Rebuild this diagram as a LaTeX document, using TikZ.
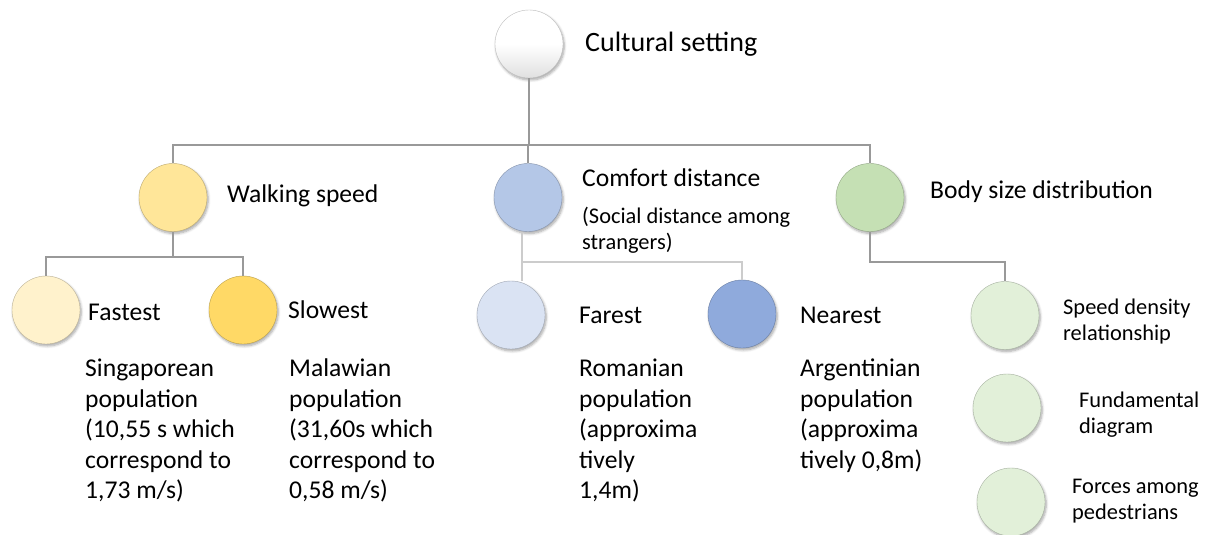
\documentclass[tikz,border=0pt]{standalone}
\usepackage{fontspec}
\setmainfont{Carlito}
\usetikzlibrary{shadows.blur}
\definecolor{wsp}{HTML}{FFE699}
\definecolor{fst}{HTML}{FFF2CC}
\definecolor{slw}{HTML}{FFD966}
\definecolor{cmf}{HTML}{B4C7E7}
\definecolor{far}{HTML}{DAE3F3}
\definecolor{nea}{HTML}{8FAADC}
\definecolor{bod}{HTML}{C5E0B4}
\definecolor{sub}{HTML}{E2F0D9}
\tikzset{
  softshadow/.style={blur shadow={shadow xshift=1.2pt, shadow yshift=-2pt, shadow blur steps=6, shadow blur radius=2.5pt, shadow opacity=35}},
  ball/.style={circle, minimum size=68pt, inner sep=0pt, fill=#1, draw=#1!75!black, line width=0.4pt, softshadow},
  link/.style={draw=black!40, line width=1.1pt},
  softlink/.style={draw=black!20, line width=1.1pt},
  head/.style={anchor=west, inner sep=0pt, font=\fontsize{25.6}{30}\selectfont},
  body/.style={anchor=north west, inner sep=0pt, align=left, font=\fontsize{25.6}{30.5}\selectfont},
  note/.style={anchor=north west, inner sep=0pt, align=left, font=\fontsize{22.4}{25.5}\selectfont},
}
\begin{document}
\begin{tikzpicture}[x=1pt, y=-1pt]
\useasboundingbox (0,0) rectangle (1208,535);

% root
\node[circle, minimum size=68pt, inner sep=0pt, top color=white, bottom color=black!12, middle color=white,
  draw=black!25, line width=0.4pt, softshadow] (root) at (529,44) {};
\node[head, font=\fontsize{28}{32}\selectfont] (rootlbl) at (585,44) {Cultural setting};

% first level
\node[ball=wsp] (walk) at (173,197.5) {};
\node[ball=cmf] (comf) at (528,197.5) {};
\node[ball=bod] (body) at (870,197.5) {};
\node[head] (walklbl) at (227,196) {Walking speed};
\node[head] (comflbl) at (582,178) {Comfort distance};
\node[note] (comfnote) at (582,207) {(Social distance among\\strangers)};
\node[head] (bodylbl) at (930,192) {Body size distribution};

% second level
\node[ball=fst] (fast) at (46,310) {};
\node[ball=slw] (slow) at (243,310) {};
\node[ball=far] (farest) at (511,315) {};
\node[ball=nea] (near) at (742,314) {};
\node[ball=sub] (spd) at (1005,315.5) {};
\node[ball=sub] (fund) at (1007,408) {};
\node[ball=sub] (forc) at (1011,502) {};

\node[head] (fastlbl) at (88,312) {Fastest};
\node[head] (slowlbl) at (288,310) {Slowest};
\node[head] (farlbl) at (579,315) {Farest};
\node[head] (nearlbl) at (800,315) {Nearest};

\node[body] (fasttxt) at (85,359) {Singaporean\\population\\(10,55 s which\\correspond to\\1,73 m/s)};
\node[body] (slowtxt) at (289,359) {Malawian\\population\\(31,60s which\\correspond to\\0,58 m/s)};
\node[body] (fartxt) at (579,359) {Romanian\\population\\(approxima\\tively\\1,4m)};
\node[body] (neartxt) at (800,359) {Argentinian\\population\\(approxima\\tively 0,8m)};

\node[note] (spdtxt) at (1063,299) {Speed density\\relationship};
\node[note] (fundtxt) at (1079,392) {Fundamental\\diagram};
\node[note] (forctxt) at (1072,479) {Forces among\\pedestrians};

% connectors
\coordinate (j0) at (529,145);
\coordinate (j1) at (173,257);
\coordinate (j2) at (522,262);
\coordinate (j3) at (870,262);
\draw[link] (root.south) -- (j0);
\draw[link] (walk.north) |- (j0) -| (body.north);
\draw[link] (comf.north) -- (comf.north |- j0);
\draw[link] (walk.south) -- (j1);
\draw[link] (fast.north) |- (j1) -| (slow.north);
\draw[softlink] ([xshift=-6pt]comf.south) -- (j2) -| (near.north);
\draw[softlink] (j2) -- (j2 |- farest.north);
\draw[link] (body.south) -- (j3) -| (spd.north);
\end{tikzpicture}
\end{document}
